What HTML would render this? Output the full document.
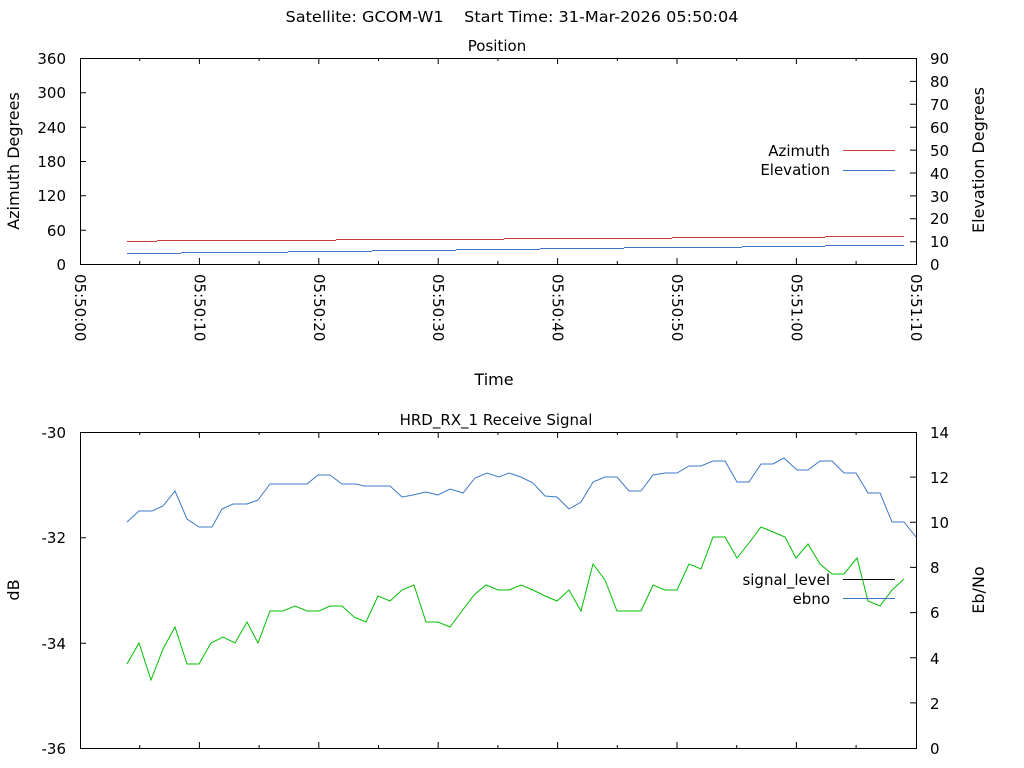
<!DOCTYPE html>
<html><head><meta charset="utf-8"><style>
html,body{margin:0;padding:0;background:#fff;}
svg{display:block;font-family:"DejaVu Sans","Liberation Sans",sans-serif;font-size:15px;}
</style></head><body>
<svg width="1024" height="768" viewBox="0 0 1024 768" xmlns="http://www.w3.org/2000/svg">
<text x="512" y="22" text-anchor="middle" textLength="453" lengthAdjust="spacingAndGlyphs">Satellite: GCOM-W1&#160;&#160;&#160;&#160;Start Time: 31-Mar-2026 05:50:04</text>
<text x="497" y="51" text-anchor="middle">Position</text>
<text x="496" y="425" text-anchor="middle">HRD_RX_1 Receive Signal</text>

<rect x="80.5" y="58.5" width="836" height="206" fill="none" stroke="#000" stroke-width="1"/>
<g stroke="#000" stroke-width="1">
<path d="M80 92.8h6M80 127.2h6M80 161.5h6M80 195.8h6M80 230.2h6"/>
<path d="M916 81.4h-6M916 104.3h-6M916 127.2h-6M916 150.1h-6M916 173h-6M916 195.9h-6M916 218.8h-6M916 241.7h-6"/>
<path d="M139.7 264v-3M199.4 264v-6M259.1 264v-3M318.8 264v-6M378.5 264v-3M438.2 264v-6M497.9 264v-3M557.6 264v-6M617.3 264v-3M677 264v-6M736.7 264v-3M796.4 264v-6M856.1 264v-3
M139.7 58v3M199.4 58v6M259.1 58v3M318.8 58v6M378.5 58v3M438.2 58v6M497.9 58v3M557.6 58v6M617.3 58v3M677 58v6M736.7 58v3M796.4 58v6M856.1 58v3"/>
</g>
<g text-anchor="end">
<text x="66" y="64">360</text><text x="66" y="98">300</text><text x="66" y="133">240</text><text x="66" y="167">180</text><text x="66" y="201">120</text><text x="66" y="236">60</text><text x="66" y="270">0</text>
</g>
<g text-anchor="start">
<text x="930" y="64">90</text><text x="930" y="87">80</text><text x="930" y="110">70</text><text x="930" y="133">60</text><text x="930" y="156">50</text><text x="930" y="179">40</text><text x="930" y="202">30</text><text x="930" y="224">20</text><text x="930" y="247">10</text><text x="930" y="270">0</text>
</g>
<g>
<text transform="translate(75,274) rotate(90)">05:50:00</text>
<text transform="translate(194.4,274) rotate(90)">05:50:10</text>
<text transform="translate(313.8,274) rotate(90)">05:50:20</text>
<text transform="translate(433.2,274) rotate(90)">05:50:30</text>
<text transform="translate(552.6,274) rotate(90)">05:50:40</text>
<text transform="translate(672,274) rotate(90)">05:50:50</text>
<text transform="translate(791.4,274) rotate(90)">05:51:00</text>
<text transform="translate(910.8,274) rotate(90)">05:51:10</text>
</g>
<text x="494" y="385" text-anchor="middle" font-size="16">Time</text>
<text transform="translate(19,161) rotate(-90)" text-anchor="middle" font-size="16">Azimuth Degrees</text>
<text transform="translate(984,160) rotate(-90)" text-anchor="middle" font-size="16">Elevation Degrees</text>
<text x="830" y="156" text-anchor="end">Azimuth</text>
<text x="830" y="175" text-anchor="end">Elevation</text>
<path d="M843 150.5h52" stroke="#c83c3c"/>
<path d="M843 170.5h52" stroke="#3c78c8"/>
<path d="M127 241.5H157M157 240.5H336M336 239.5H504M504 238.5H672M672 237.5H825M825 236.5H904" fill="none" stroke="#c83c3c"/>
<path d="M127 253.5H181M181 252.5H288M288 251.5H372M372 250.5H456M456 249.5H540M540 248.5H624M624 247.5H742M742 246.5H825M825 245.5H904" fill="none" stroke="#3c78c8"/>

<rect x="80.5" y="432.5" width="836" height="316" fill="none" stroke="#000"/>
<g stroke="#000">
<path d="M80 537.8h6M80 643.2h6M916 477.1h-6M916 522.3h-6M916 567.4h-6M916 612.6h-6M916 657.7h-6M916 702.9h-6"/>
<path d="M139.7 748v-3M199.4 748v-6M259.1 748v-3M318.8 748v-6M378.5 748v-3M438.2 748v-6M497.9 748v-3M557.6 748v-6M617.3 748v-3M677 748v-6M736.7 748v-3M796.4 748v-6M856.1 748v-3
M139.7 432v3M199.4 432v6M259.1 432v3M318.8 432v6M378.5 432v3M438.2 432v6M497.9 432v3M557.6 432v6M617.3 432v3M677 432v6M736.7 432v3M796.4 432v6M856.1 432v3"/>
</g>
<g text-anchor="end">
<text x="66" y="438">-30</text><text x="66" y="543">-32</text><text x="66" y="649">-34</text><text x="66" y="754">-36</text>
</g>
<g text-anchor="start">
<text x="930" y="438">14</text><text x="930" y="483">12</text><text x="930" y="528">10</text><text x="930" y="573">8</text><text x="930" y="618">6</text><text x="930" y="664">4</text><text x="930" y="709">2</text><text x="930" y="754">0</text>
</g>
<text transform="translate(19,590) rotate(-90)" text-anchor="middle" font-size="16">dB</text>
<text transform="translate(984,590) rotate(-90)" text-anchor="middle" font-size="16">Eb/No</text>
<polyline fill="none" stroke="#3c78c8" points="127,522 139,511 152,511 163,506 175,491 187,519 199,527 212,527 222,509 233,504 247,504 258,500 270,484 307,484 318,475 330,475 342,484 356,484 364,486 390,486 402,497 413,495 426,492 438,495 450,489 463,493 475,478 487,473 499,477 509,473 521,477 533,483 545,496 557,497 569,509 581,502 593,482 605,477 617,477 629,491 641,491 653,475 665,473 677,473 689,466 701,466 713,461 725,461 737,482 749,482 761,464 773,464 784,458 797,470 808,470 820,461 832,461 844,473 856,473 868,493 880,493 892,522 904,522 916,537"/>
<polyline fill="none" stroke="#00c000" points="127,664 139,643 151,680 163,649 175,627 187,664 199,664 211,643 223,637 235,643 247,622 258,643 270,611 283,611 295,606 307,611 319,611 330,606 342,606 354,617 366,622 378,596 390,601 402,590 414,585 426,622 438,622 450,627 462,611 474,595 486,585 498,590 509,590 521,585 533,590 545,596 557,601 569,590 581,611 593,564 605,580 617,611 629,611 641,611 653,585 665,590 677,590 689,564 701,569 713,537 725,537 737,558 749,543 761,527 773,532 785,537 796,558 808,544 820,564 832,574 844,574 857,558 868,601 880,606 892,590 904,579"/>
<text x="830" y="585" text-anchor="end">signal_level</text>
<text x="830" y="604" text-anchor="end">ebno</text>
<path d="M843 579.5h52" stroke="#000"/>
<path d="M843 598.5h52" stroke="#3c78c8"/>
</svg>
</body></html>
